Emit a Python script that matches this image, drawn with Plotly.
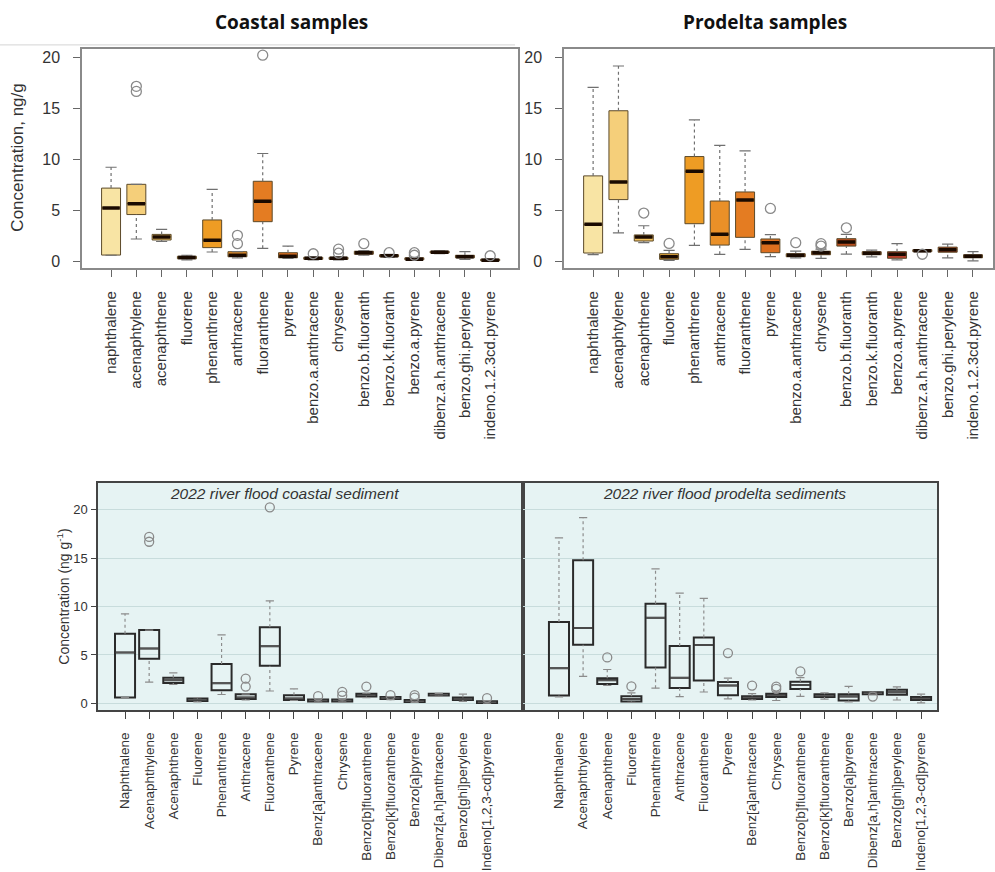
import plotly.graph_objects as go

# ---------------- data ----------------
labels_top = ["naphthalene", "acenaphtylene", "acenaphthene", "fluorene", "phenanthrene",
              "anthracene", "fluoranthene", "pyrene", "benzo.a.anthracene", "chrysene",
              "benzo.b.fluoranth", "benzo.k.fluoranth", "benzo.a.pyrene",
              "dibenz.a.h.anthracene", "benzo.ghi.perylene", "indeno.1.2.3cd.pyrene"]
labels_bottom = ["Naphthalene", "Acenaphthylene", "Acenaphthene", "Fluorene", "Phenanthrene",
                 "Anthracene", "Fluoranthene", "Pyrene", "Benz[a]anthracene", "Chrysene",
                 "Benzo[b]fluoranthene", "Benzo[k]fluoranthene", "Benzo[a]pyrene",
                 "Dibenz[a,h]anthracene", "Benzo[ghi]perylene", "Indeno[1,2,3-cd]pyrene"]

# Coastal samples
coastal_low = [0.60, 2.20, 1.95, 0.15, 0.92, 0.35, 1.28, 0.30, 0.15, 0.15, 0.60, 0.40, 0.10, 0.75, 0.20, 0.02]
coastal_q1 = [0.62, 4.60, 2.10, 0.25, 1.35, 0.45, 3.90, 0.35, 0.20, 0.20, 0.70, 0.45, 0.15, 0.82, 0.35, 0.05]
coastal_med = [5.25, 5.67, 2.40, 0.38, 2.07, 0.60, 5.90, 0.50, 0.30, 0.30, 0.85, 0.55, 0.22, 0.90, 0.45, 0.12]
coastal_q3 = [7.20, 7.57, 2.65, 0.50, 4.07, 0.95, 7.87, 0.85, 0.40, 0.40, 1.00, 0.65, 0.35, 1.00, 0.60, 0.22]
coastal_high = [9.25, 7.57, 3.15, 0.60, 7.08, 0.95, 10.60, 1.50, 0.45, 0.45, 1.05, 0.70, 0.40, 1.03, 0.95, 0.28]
coastal_out = [[], [16.7, 17.2], [], [], [], [1.74, 2.56], [20.26], [], [0.75],
               [0.80, 1.20], [1.74], [0.85], [0.60, 0.85], [], [], [0.55]]

# Prodelta samples
prodelta_low = [0.66, 2.80, 1.85, 0.10, 1.57, 0.69, 1.18, 0.46, 0.35, 0.30, 0.72, 0.45, 0.15, 0.95, 0.35, 0.05]
prodelta_q1 = [0.82, 6.07, 2.00, 0.20, 3.70, 1.60, 2.36, 0.85, 0.45, 0.65, 1.50, 0.65, 0.30, 0.95, 0.90, 0.35]
prodelta_med = [3.64, 7.80, 2.40, 0.45, 8.85, 2.66, 6.03, 1.84, 0.60, 0.85, 1.90, 0.80, 0.70, 1.05, 1.15, 0.50]
prodelta_q3 = [8.40, 14.80, 2.60, 0.75, 10.30, 5.93, 6.82, 2.20, 0.75, 1.00, 2.23, 0.95, 0.95, 1.15, 1.40, 0.65]
prodelta_high = [17.10, 19.20, 3.50, 1.08, 13.90, 11.40, 10.85, 2.62, 1.00, 1.20, 2.66, 1.10, 1.75, 1.15, 1.70, 0.95]
prodelta_out = [[], [], [4.75], [1.76], [], [], [], [5.20], [1.84], [1.50, 1.74], [3.30], [], [], [0.70], [], []]

# ---------------- styles ----------------
palette = ["#f8e4a4", "#f5cf7a", "#f1c05c", "#eeae3c", "#ee9c24", "#ea9028", "#e47c22", "#dc6e1e",
           "#d0621c", "#c4561c", "#b84c1c", "#a8441a", "#b8402c", "#8c3418", "#b04a2a", "#7a2a14"]
FONT = "Liberation Sans"
TFONT = "Open Sans"
W, H = 995, 872

fig = go.Figure()


def add_panel(xa, ya, low, q1, med, q3, high, outl, top):
    n = len(med)
    if top:
        bw, capw = 0.75, 0.22
        wcol, lcol, lw = "#707070", "#5c4a2a", 1
        mcol, mw = "#1a0a00", 3.5
        ocol, osize = "#8a8a8a", 10
    else:
        bw, capw = 0.83, 0.17
        wcol, lcol, lw = "#8c8c8c", "#2a2a2a", 2
        mcol, mw = "#555555", 1.5
        ocol, osize = "#8a8a8a", 9
    wx, wy = [], []
    cx, cy = [], []
    for i in range(n):
        wx += [i, i, None, i, i, None]
        wy += [q3[i], high[i], None, low[i], q1[i], None]
        cx += [i - capw, i + capw, None, i - capw, i + capw, None]
        cy += [high[i], high[i], None, low[i], low[i], None]
    fig.add_trace(go.Scatter(x=wx, y=wy, mode="lines", xaxis=xa, yaxis=ya,
                             line=dict(color=wcol, width=1.2, dash="dot"),
                             hoverinfo="skip", showlegend=False))
    fig.add_trace(go.Scatter(x=cx, y=cy, mode="lines", xaxis=xa, yaxis=ya,
                             line=dict(color=wcol, width=1.2),
                             hoverinfo="skip", showlegend=False))
    for i in range(n):
        fill = palette[i] if top else "rgba(0,0,0,0)"
        fig.add_trace(go.Box(x=[i], q1=[q1[i]], median=[med[i]], q3=[q3[i]],
                             lowerfence=[q1[i]], upperfence=[q3[i]], orientation="v",
                             width=bw, whiskerwidth=0, boxpoints=False,
                             fillcolor=fill, line=dict(color=lcol, width=lw),
                             xaxis=xa, yaxis=ya, hoverinfo="skip", showlegend=False))
    mx, my = [], []
    for i in range(n):
        mx += [i - bw / 2 + 0.03, i + bw / 2 - 0.03, None]
        my += [med[i], med[i], None]
    fig.add_trace(go.Scatter(x=mx, y=my, mode="lines", xaxis=xa, yaxis=ya,
                             line=dict(color=mcol, width=mw),
                             hoverinfo="skip", showlegend=False))
    ox, oy = [], []
    for i in range(n):
        for v in outl[i]:
            ox.append(i)
            oy.append(v)
    fig.add_trace(go.Scatter(x=ox, y=oy, mode="markers", xaxis=xa, yaxis=ya,
                             marker=dict(symbol="circle-open", size=osize,
                                         color=ocol, line=dict(width=1.3, color=ocol)),
                             hoverinfo="skip", showlegend=False))


add_panel("x", "y", coastal_low, coastal_q1, coastal_med, coastal_q3, coastal_high, coastal_out, True)
add_panel("x2", "y2", prodelta_low, prodelta_q1, prodelta_med, prodelta_q3, prodelta_high, prodelta_out, True)
add_panel("x3", "y3", coastal_low, coastal_q1, coastal_med, coastal_q3, coastal_high, coastal_out, False)
add_panel("x4", "y4", prodelta_low, prodelta_q1, prodelta_med, prodelta_q3, prodelta_high, prodelta_out, False)


def px_x(p):
    return p / W


def px_y(p):
    return 1 - p / H


ticks_n = list(range(len(labels_top)))
yt = [0, 5, 10, 15, 20]

top_x = dict(showgrid=False, zeroline=False, showline=True, mirror=True,
             linecolor="#8a8a8a", linewidth=1.5, ticks="outside", ticklen=7,
             tickcolor="#666", tickwidth=1.2, tickvals=ticks_n, ticktext=labels_top,
             tickangle=-90, tickfont=dict(size=15, color="#333", family=FONT),
             ticklabelstandoff=8)
top_y = dict(showgrid=False, zeroline=False, showline=True, mirror=True,
             linecolor="#8a8a8a", linewidth=1.5, ticks="outside", ticklen=7,
             tickcolor="#666", tickwidth=1.2, tickvals=yt, range=[-0.69, 20.88],
             tickfont=dict(size=16, color="#333", family=FONT), ticklabelstandoff=10)
bot_x = dict(showgrid=False, zeroline=False, showline=True, mirror=True,
             linecolor="#444", linewidth=1.5, ticks="outside", ticklen=7,
             tickcolor="#444", tickwidth=1.2, tickvals=ticks_n, ticktext=labels_bottom,
             tickangle=-90, tickfont=dict(size=13.5, color="#333", family=FONT),
             ticklabelstandoff=8)
bot_y = dict(showgrid=True, gridcolor="#c8dcdc", gridwidth=1, zeroline=False,
             showline=True, mirror=True, linecolor="#444", linewidth=1.5,
             ticks="outside", ticklen=5, tickcolor="#444", tickwidth=1.2,
             tickvals=yt, range=[-0.72, 22.78],
             tickfont=dict(size=13, color="#333", family=FONT), ticklabelstandoff=1)

dom_top = [px_y(269), px_y(49)]
dom_bot = [px_y(712), px_y(484)]

fig.update_layout(
    width=W, height=H, margin=dict(l=0, r=0, t=0, b=0),
    paper_bgcolor="white", plot_bgcolor="white",
    font=dict(family=FONT, color="#333"),
    showlegend=False, boxmode="overlay",
    xaxis=dict(top_x, domain=[px_x(82), px_x(518)], range=[-1.15, 16.1], anchor="y"),
    yaxis=dict(top_y, domain=dom_top, anchor="x"),
    xaxis2=dict(top_x, domain=[px_x(564), px_x(993)], range=[-1.15, 15.79], anchor="y2"),
    yaxis2=dict(top_y, domain=dom_top, anchor="x2"),
    xaxis3=dict(bot_x, domain=[px_x(98), px_x(523)], range=[-1.12, 16.49], anchor="y3"),
    yaxis3=dict(bot_y, domain=dom_bot, anchor="x3"),
    xaxis4=dict(bot_x, domain=[px_x(523), px_x(937)], range=[-1.49, 15.66], anchor="y4"),
    yaxis4=dict(bot_y, domain=dom_bot, anchor="x4", showticklabels=False, ticks=""),
)

for xr, yr in (("x3 domain", "y3 domain"), ("x4 domain", "y4 domain")):
    fig.add_shape(type="rect", xref=xr, yref=yr, x0=0, x1=1, y0=0, y1=1,
                  fillcolor="#e6f3f3", line=dict(width=0), layer="below")

fig.add_shape(type="line", xref="paper", yref="paper", x0=0, x1=px_x(515),
              y0=px_y(45), y1=px_y(45), line=dict(color="#d4d4d4", width=1))

ann = [
    dict(text="<b>Coastal samples</b>", x=px_x(291), y=px_y(22),
         font=dict(size=19, family=TFONT, color="#111")),
    dict(text="<b>Prodelta samples</b>", x=px_x(765), y=px_y(22),
         font=dict(size=19, family=TFONT, color="#111")),
    dict(text="Concentration, ng/g", x=px_x(18), y=px_y(158), textangle=-90,
         font=dict(size=17, family=FONT, color="#333")),
    dict(text="Concentration (ng g<sup>-1</sup>)", x=px_x(63), y=px_y(598), textangle=-90,
         font=dict(size=14, family=FONT, color="#333")),
    dict(text="<i>2022 river flood coastal sediment</i>", x=px_x(284), y=px_y(495),
         font=dict(size=15.5, family=FONT, color="#333")),
    dict(text="<i>2022 river flood prodelta sediments</i>", x=px_x(724), y=px_y(495),
         font=dict(size=15.5, family=FONT, color="#333")),
]
for a in ann:
    fig.add_annotation(xref="paper", yref="paper", showarrow=False,
                       xanchor="center", yanchor="middle", **a)

fig.write_html("out.html")
